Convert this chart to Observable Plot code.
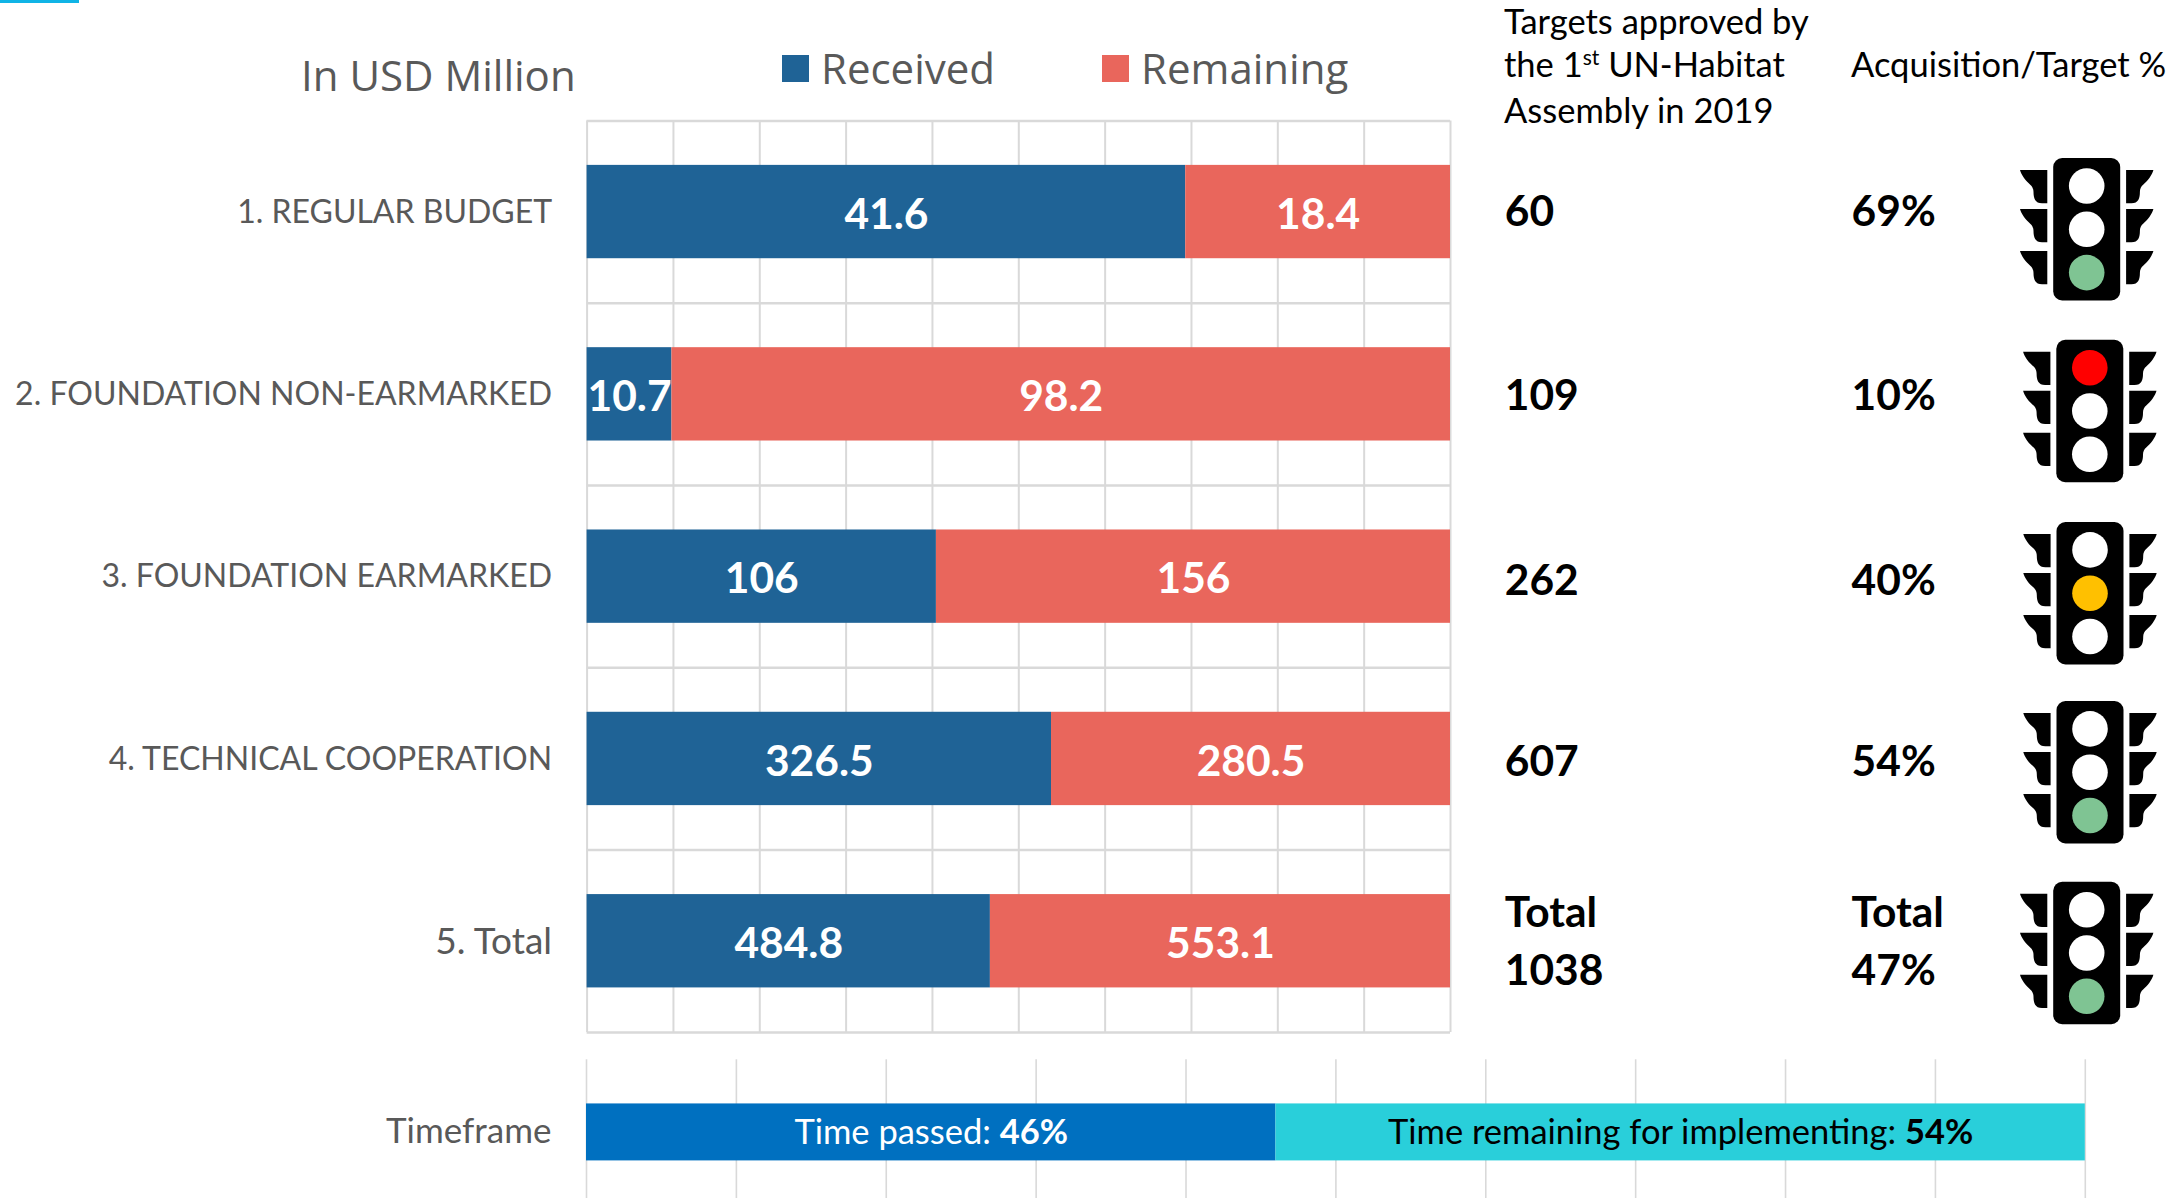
<!DOCTYPE html>
<html><head><meta charset="utf-8">
<script src="https://cdn.jsdelivr.net/npm/d3@7"></script>
<script src="https://cdn.jsdelivr.net/npm/@observablehq/plot@0.6"></script>
<style>
html,body{margin:0;background:#fff;}
#c{position:relative;width:2182px;height:1198px;overflow:hidden;font-family:Lato,sans-serif;}
#c svg{position:absolute;left:0;background:transparent;overflow:visible;}
.t{position:absolute;white-space:nowrap;}
</style></head><body><div id="c"></div>
<script>
const categories = ["1. REGULAR BUDGET","2. FOUNDATION NON-EARMARKED","3. FOUNDATION EARMARKED","4. TECHNICAL COOPERATION","5. Total"];
const received = [41.6,10.7,106,326.5,484.8];
const remaining = [18.4,98.2,156,280.5,553.1];
const targets = ["60","109","262","607","Total\n1038"];
const acquisition = ["69%","10%","40%","54%","Total\n47%"];
const activeLamp = ["green","red","amber","green","green"];
const timeframeNames = ["Time passed: ","Time remaining for implementing: "];
const timeframeShares = [46,54];

const lampColors = {red:"#FF0000",amber:"#FFC000",green:"#7FC493"};
const lightCentres = [[2086.7,229.3],[2089.8,411],[2090,593.2],[2090,772.2],[2086.7,953]];
const columnNudge = [-4.6,-3.5,-0.4,-1.4,-4.2];

const rows = categories.flatMap((c,i)=>[
  {cat:c,series:"Received",value:received[i]},
  {cat:c,series:"Remaining",value:remaining[i]}
]);
const info = categories.map((c,i)=>({cat:c,target:targets[i],acq:acquisition[i],nudge:columnNudge[i]}));
const grey="#D9D9D9";

function trafficLights(index,{y},values,dims){
  const g=d3.create("svg:g");
  const wing="M0,0H27.3V33.3H22C15,33.3 13.5,28 13.5,22C13.5,15 8,14 4,8C2,5 .5,2 0,0Z";
  lightCentres.forEach(([cx,cy],i)=>{
    const l=g.append("g").attr("transform",`translate(${cx},${cy})`);
    l.append("rect").attr("x",-33.5).attr("y",-71.2).attr("width",67).attr("height",142.4).attr("rx",9).attr("fill","#000");
    [-59.3,-20.3,21.7].forEach(dy=>{
      l.append("path").attr("d",wing).attr("fill","#000").attr("transform",`translate(-66.7,${dy})`);
      l.append("path").attr("d",wing).attr("fill","#000").attr("transform",`translate(66.7,${dy}) scale(-1,1)`);
    });
    ["red","amber","green"].forEach((name,k)=>{
      l.append("circle").attr("cx",0).attr("cy",(k-1)*43.3).attr("r",17.8)
        .attr("fill",activeLamp[i]===name?lampColors[name]:"#fff");
    });
  });
  return g.node();
}

const main = Plot.plot({
  width:2182,height:1045,
  marginLeft:586.6,marginRight:732,marginTop:120.4,marginBottom:13.1,
  style:{fontFamily:"Lato,sans-serif",background:"transparent"},
  x:{domain:[0,1],axis:null},
  y:{domain:categories,axis:null,paddingInner:0.488,paddingOuter:0.244,round:false},
  color:{domain:["Received","Remaining"],range:["#1F6396","#E9665C"]},
  marks:[
    Plot.ruleX(d3.range(0,1.0001,0.1),{stroke:grey,strokeWidth:2,strokeOpacity:1}),
    Plot.ruleY(categories,{y:d=>d,dy:-91.17,x1:0,x2:1,stroke:grey,strokeWidth:2.5}),
    Plot.ruleY(["5. Total"],{y:d=>d,dy:91.17,x1:0,x2:1,stroke:grey,strokeWidth:2.5}),
    Plot.barX(rows,Plot.stackX({x:"value",y:"cat",fill:"series",offset:"normalize"})),
    Plot.text(rows,Plot.stackX({x:"value",y:"cat",z:"series",offset:"normalize",text:d=>String(d.value),fill:"#fff",fontWeight:700,fontSize:42.5,dy:3})),
    Plot.text(categories,{y:d=>d,text:d=>d,frameAnchor:"left",textAnchor:"end",dx:-35,fontSize:d=>d==="5. Total"?37:32,fill:"#595959",dy:0.5}),
    ...info.map(r=>Plot.text([r],{y:"cat",text:"target",frameAnchor:"left",textAnchor:"start",dx:917.7,fontSize:42.5,fontWeight:700,fill:"#000",lineHeight:1.38,dy:r.nudge})),
    ...info.map(r=>Plot.text([r],{y:"cat",text:"acq",frameAnchor:"left",textAnchor:"start",dx:1264.5,fontSize:42.5,fontWeight:700,fill:"#000",lineHeight:1.38,dy:r.nudge})),
    trafficLights
  ]
});
main.style.top="0px";

const timeframeRows = timeframeNames.map((n,i)=>({name:n,share:timeframeShares[i],cat:"Timeframe"}));
const lower = Plot.plot({
  width:2182,height:153,
  marginLeft:586,marginRight:97.2,marginTop:14.3,marginBottom:0,
  style:{fontFamily:"Lato,sans-serif",background:"transparent"},
  x:{domain:[0,100],axis:null},
  y:{domain:["Timeframe"],axis:null,paddingInner:0,paddingOuter:0.717,align:0.54,round:false},
  color:{domain:timeframeNames,range:["#0070C0","#29CFDA"]},
  marks:[
    Plot.ruleX(d3.range(0,100.01,10),{stroke:grey,strokeWidth:1.6}),
    Plot.barX(timeframeRows,Plot.stackX({x:"share",y:"cat",fill:"name"})),
    Plot.text(timeframeRows,Plot.stackX({x:"share",y:"cat",z:"name",text:d=>d.name+"|"+d.share+"%",fontSize:34.5,dy:1})),
    Plot.text(["Timeframe"],{y:d=>d,text:d=>d,frameAnchor:"left",textAnchor:"end",dx:-35,fontSize:35,fill:"#595959",dy:-1})
  ]
});
lower.style.top="1045px";

const c=document.getElementById("c");
c.append(main,lower);

// bold share inside each timeframe label
lower.querySelectorAll("text").forEach(t=>{
  const s=t.textContent;
  if(!s.includes("|"))return;
  const [a,b]=s.split("|");
  const sel=d3.select(t);
  sel.text(null);
  sel.append("tspan").style("white-space","pre").text(a);
  sel.append("tspan").attr("font-weight",700).text(b);
  sel.attr("fill",a.startsWith("Time passed")?"#fff":"#000");
});

function label(html,x,y,size,color,extra){
  const d=document.createElement("div");
  d.className="t";d.innerHTML=html;
  d.style.cssText+=`left:${x}px;top:${y}px;font-size:${size}px;color:${color};line-height:1;${extra||""}`;
  c.append(d);return d;
}
// accent rule, legend and headers
const acc=document.createElement("div");
acc.style.cssText="position:absolute;left:0;top:0;width:79px;height:3px;background:#10B4E6";
c.append(acc);
label("In USD Million",301,53.5,42,"#595959","font-family:'Open Sans'");
[["Received","#1F6396",782,821],["Remaining","#E9665C",1102,1141]].forEach(([n,col,sx,tx])=>{
  const s=document.createElement("div");
  s.style.cssText=`position:absolute;left:${sx}px;top:55px;width:27px;height:27px;background:${col}`;
  c.append(s);
  label(n,tx,47,42,"#595959","font-family:'Open Sans'");
});
label("Targets approved by",1504,4.2,34.5,"#000");
label('the 1<sup style="font-size:21px;line-height:0">st</sup> UN-Habitat',1504,46.5,34.5,"#000");
label("Assembly in 2019",1504,92.5,34.5,"#000");
label("Acquisition/Target %",1851,46.5,34.5,"#000");
</script></body></html>
